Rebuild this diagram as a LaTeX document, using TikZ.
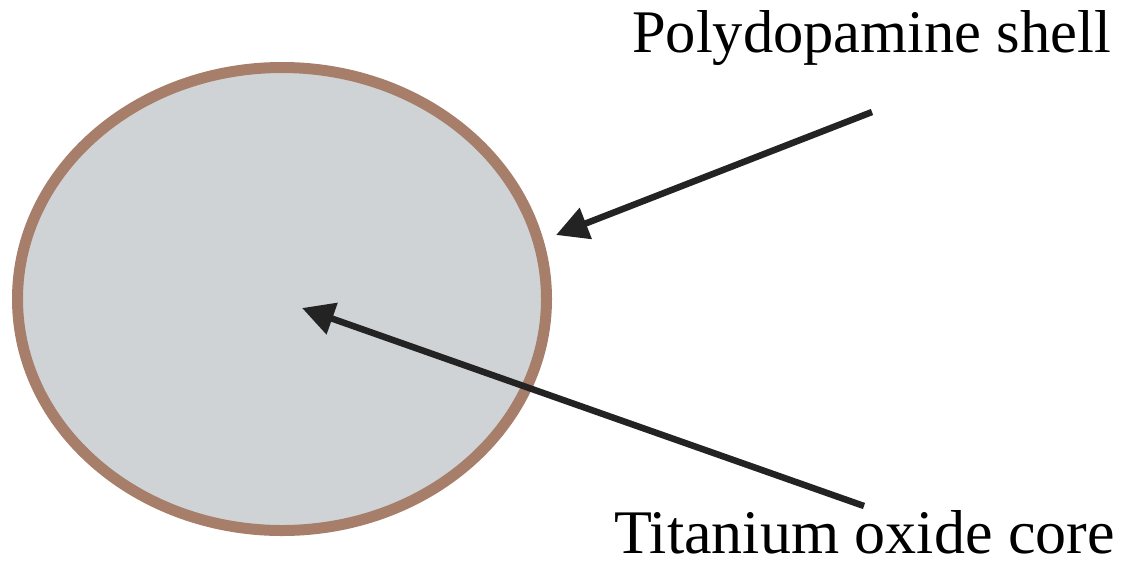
\documentclass[tikz,border=0pt]{standalone}
\usepackage{fontspec}
\setmainfont{Liberation Serif}
\usetikzlibrary{arrows.meta}
\definecolor{shellbrown}{RGB}{166,126,106}
\definecolor{coregrey}{RGB}{208,211,214}
\definecolor{arrowdark}{RGB}{35,35,35}
\begin{document}
\begin{tikzpicture}[x=1pt,y=-1pt,
  lbl/.style={inner sep=0pt, anchor=base west},
  pointer/.style={draw=arrowdark, line width=6.5pt, -{Triangle[length=32pt,width=32pt]}}]
\useasboundingbox (0,0) rectangle (1140,566);
\draw[shellbrown, fill=coregrey, line width=11pt] (282,299) ellipse [x radius=264.5, y radius=231.5];
\coordinate (core) at (302,308);
\coordinate (shell) at (556,235);
\node[lbl, font=\fontsize{60.5}{62}\selectfont] (t1) at (632,52) {Polydopamine shell};
\node[lbl, font=\fontsize{62}{64}\selectfont] (t2) at (614,553) {Titanium oxide core};
\coordinate (s1) at (872,112);
\coordinate (s2) at (864,506);
\draw[pointer] (s1) -- (shell);
\draw[pointer] (s2) -- (core);
\end{tikzpicture}
\end{document}
